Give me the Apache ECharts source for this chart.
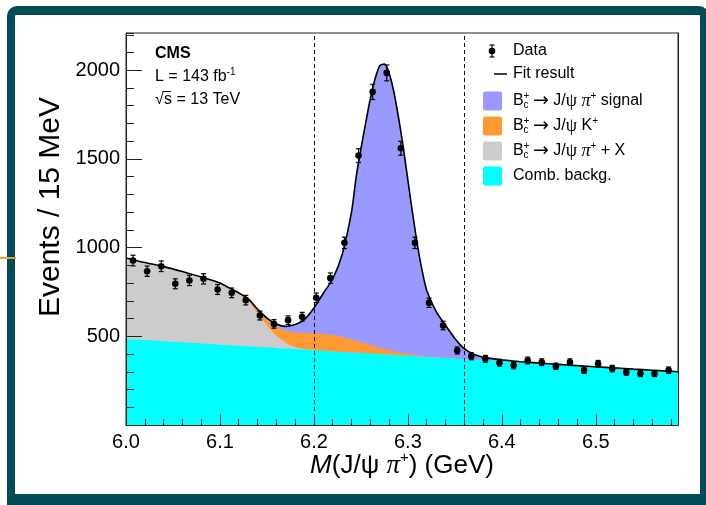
<!DOCTYPE html>
<html>
<head>
<meta charset="utf-8">
<title>B_c+ -> J/psi pi+ invariant mass</title>
<script src="https://cdn.jsdelivr.net/npm/echarts@6/dist/echarts.min.js"></script>
<style>
  html, body { margin: 0; padding: 0; background: #fff; }
  #frame {
    position: absolute; left: 7px; top: 6px; width: 702px; height: 500px;
    box-sizing: border-box; border-style: solid; border-color: #034b56;
    border-width: 9px 9px 12px 8px; border-radius: 10px 10px 0 0;
    background: #fff; z-index: 0;
  }
  #edgeMark { position: absolute; left: 0; top: 257px; width: 16px; height: 2px; background: #ec9b3b; z-index: 2; }
  #chart { position: absolute; left: 0; top: 0; width: 706px; height: 505px; z-index: 1; }
</style>
</head>
<body>
<div id="frame"></div>
<div id="chart"></div>
<div id="edgeMark"></div>
<script>
// ---- fit components, sampled along the mass axis (GeV, events / 15 MeV) ----
const massGrid = [6.00, 6.02, 6.04, 6.06, 6.08, 6.10,
  6.11, 6.12, 6.13, 6.14, 6.15, 6.16, 6.17, 6.18, 6.19, 6.20, 6.21, 6.22, 6.23, 6.24,
  6.245, 6.25, 6.255, 6.26, 6.265, 6.27, 6.275, 6.28, 6.285, 6.29, 6.295, 6.30, 6.305, 6.31, 6.315,
  6.32, 6.33, 6.34, 6.35, 6.36, 6.37, 6.38, 6.39, 6.40,
  6.42, 6.44, 6.46, 6.48, 6.50, 6.52, 6.54, 6.56, 6.5875];

const combBkg = [485, 479, 472, 466, 460, 453,
  450, 447, 444, 441, 438, 434, 431, 428, 425, 422, 419, 415, 412, 409,
  408, 406, 404, 403, 401, 400, 398, 397, 395, 393, 392, 390, 389, 387, 385,
  384, 381, 378, 374, 371, 368, 365, 362, 359,
  352, 346, 340, 333, 327, 321, 314, 308, 299];

const partialReco = [457, 437, 421, 399, 373, 345,
  318, 290, 255, 190, 125, 70, 32, 11, 3, 0, 0, 0, 0, 0,
  0, 0, 0, 0, 0, 0, 0, 0, 0, 0, 0, 0, 0, 0, 0,
  0, 0, 0, 0, 0, 0, 0, 0, 0,
  0, 0, 0, 0, 0, 0, 0, 0, 0];

const kaonMisid = [0, 0, 0, 0, 0, 1,
  2, 4, 8, 16, 30, 50, 68, 83, 92, 95, 95, 92, 84, 72,
  66, 60, 54, 48, 42, 36, 30, 25, 21, 17, 14, 11, 9, 7, 5,
  4, 2, 1, 0, 0, 0, 0, 0, 0,
  0, 0, 0, 0, 0, 0, 0, 0, 0];

const signalPeak = [0, 0, 0, 0, 1, 2,
  3, 4, 5, 6, 10, 16, 25, 44, 76, 143, 229, 316, 464, 719,
  926, 1090, 1242, 1387, 1507, 1589, 1607, 1563, 1464, 1325, 1164, 979, 797, 626, 485,
  372, 257, 183, 114, 59, 31, 17, 12, 8,
  5, 3, 2, 2, 1, 1, 1, 1, 1];

// ---- measured candidates per 15 MeV bin ----
const binCenters = [6.0075, 6.0225, 6.0375, 6.0525, 6.0675, 6.0825, 6.0975, 6.1125, 6.1275, 6.1425,
  6.1575, 6.1725, 6.1875, 6.2025, 6.2175, 6.2325, 6.2475, 6.2625, 6.2775, 6.2925,
  6.3075, 6.3225, 6.3375, 6.3525, 6.3675, 6.3825, 6.3975, 6.4125, 6.4275, 6.4425,
  6.4575, 6.4725, 6.4875, 6.5025, 6.5175, 6.5325, 6.5475, 6.5625, 6.5775];
const dataCounts = [927, 867, 895, 796, 815, 824, 764, 745, 704, 617,
  570, 591, 610, 717, 828, 1027, 1519, 1878, 1985, 1560,
  1027, 689, 561, 420, 388, 373, 351, 335, 364, 354,
  331, 354, 309, 345, 318, 298, 290, 290, 309];
const dataErrors = [30, 29, 30, 28, 29, 29, 28, 27, 27, 25,
  24, 24, 25, 27, 29, 32, 39, 43, 45, 39,
  32, 26, 24, 20, 20, 19, 19, 18, 19, 19,
  18, 19, 18, 19, 18, 17, 17, 17, 18];

// signal window boundaries
const windowEdges = [6.2, 6.355];

// axes
const xRange = [6.0, 6.5875];
const yRange = [0, 2210];

const FONT = '"Liberation Sans", Arial, Helvetica, sans-serif';
const SERIF = '"Liberation Serif", "DejaVu Serif", serif';
const COL = { signal: '#9999ff', kaon: '#ff9933', partial: '#cccccc', comb: '#00ffff', ink: '#000000', axis: '#222222' };

// cumulative levels of the stacked fit
const lvlComb = combBkg.slice();
const lvlPartial = lvlComb.map((v, i) => v + partialReco[i]);
const lvlKaon = lvlPartial.map((v, i) => v + kaonMisid[i]);
const lvlTotal = lvlKaon.map((v, i) => v + signalPeak[i]);
const pts = arr => massGrid.map((m, i) => [m, arr[i]]);

function band(name, arr, color) {
  return {
    type: 'line', name, data: pts(arr), symbol: 'none', showSymbol: false, smooth: 0.25,
    lineStyle: { width: 0 }, areaStyle: { color, opacity: 1 }, silent: true, z: 2
  };
}

const chart = echarts.init(document.getElementById('chart'), null, { renderer: 'canvas' });

// ---- legend & labels ----
const gfx = [];
function txt(x, y, text, opts) {
  const el = { type: 'text', x, y, silent: true, z: 20,
    style: Object.assign({ text, fill: COL.ink, font: '16px ' + FONT, align: 'left', verticalAlign: 'middle' }, opts || {}) };
  gfx.push(el);
  return el;
}
const richBase = {
  sup: { fontSize: 10, fontFamily: FONT, lineHeight: 10, verticalAlign: 'top', fill: COL.ink }
};
const richLegend = {
  ar: { fontSize: 19, fontFamily: '"DejaVu Sans", sans-serif', lineHeight: 20, fill: COL.ink },
  psi: { fontSize: 18, fontFamily: SERIF, lineHeight: 20, fill: COL.ink },
  pi: { fontSize: 18, fontFamily: SERIF, fontStyle: 'italic', lineHeight: 20, fill: COL.ink },
  sup: { fontSize: 10, fontFamily: FONT, lineHeight: 11, verticalAlign: 'top', fill: COL.ink }
};

// CMS label block
txt(155, 54, 'CMS', { font: 'bold 16px ' + FONT });
txt(155, 77, 'L = 143 fb{sup|-1}', { lineHeight: 20, rich: richBase });
txt(155, 100, '√', { font: '16px ' + FONT });
txt(164, 100, 's = 13 TeV', { font: '16px ' + FONT });
gfx.push({ type: 'line', silent: true, z: 20, shape: { x1: 162.5, y1: 91.5, x2: 171, y2: 91.5 }, style: { stroke: COL.ink, lineWidth: 1 } });

// legend entries
const legX = 492, legTextX = 513;
gfx.push({ type: 'group', silent: true, z: 20, children: [
  { type: 'line', shape: { x1: legX, y1: 45, x2: legX, y2: 57 }, style: { stroke: COL.ink, lineWidth: 1.2 }, z: 20 },
  { type: 'line', shape: { x1: legX - 2.5, y1: 45, x2: legX + 2.5, y2: 45 }, style: { stroke: COL.ink, lineWidth: 1.2 }, z: 20 },
  { type: 'line', shape: { x1: legX - 2.5, y1: 57, x2: legX + 2.5, y2: 57 }, style: { stroke: COL.ink, lineWidth: 1.2 }, z: 20 },
  { type: 'circle', shape: { cx: legX, cy: 51, r: 3.3 }, style: { fill: COL.ink }, z: 20 }
]});
txt(legTextX, 51, 'Data');
gfx.push({ type: 'line', silent: true, z: 20, shape: { x1: 494, y1: 74, x2: 507, y2: 74 }, style: { stroke: COL.ink, lineWidth: 1.5 } });
txt(legTextX, 74, 'Fit result');

// decay-mode entries
const boxRows = [
  { y: 101, color: COL.signal, tail: '{ar|→} J/{psi|ψ} {pi|π}{sup|+} signal' },
  { y: 126, color: COL.kaon, tail: '{ar|→} J/{psi|ψ} K{sup|+}' },
  { y: 151, color: COL.partial, tail: '{ar|→} J/{psi|ψ} {pi|π}{sup|+} + X' },
  { y: 176, color: COL.comb, label: 'Comb. backg.' }
];
boxRows.forEach(r => {
  gfx.push({ type: 'rect', silent: true, z: 20, shape: { x: 483, y: r.y - 9.5, width: 19, height: 19, r: 2 }, style: { fill: r.color } });
  if (r.label) { txt(legTextX, r.y, r.label); return; }
  txt(legTextX, r.y, 'B');
  txt(523.5, r.y - 5, '+', { font: '10px ' + FONT });
  txt(523.5, r.y + 4.5, 'c', { font: '10px ' + FONT });
  txt(533, r.y, r.tail, { lineHeight: 20, rich: richLegend });
});

// axis titles
const yTitle = txt(51, 207, 'Events / 15 MeV', { font: '30px ' + FONT, align: 'center' });
yTitle.rotation = Math.PI / 2;
txt(402, 466, '{it|M}(J/ψ {pi|π}{sup|+}) (GeV)', {
  font: '26px ' + FONT, align: 'center', lineHeight: 32,
  rich: {
    it: { fontSize: 26, fontFamily: FONT, fontStyle: 'italic', lineHeight: 32, fill: COL.ink },
    pi: { fontSize: 27, fontFamily: SERIF, fontStyle: 'italic', lineHeight: 32, fill: COL.ink },
    sup: { fontSize: 15, fontFamily: FONT, lineHeight: 15, verticalAlign: 'top', fill: COL.ink }
  }
});

const axisLineStyle = { color: COL.axis, width: 1 };

chart.setOption({
  animation: false,
  backgroundColor: 'transparent',
  grid: { left: 126, right: 28, top: 33, bottom: 80, show: true, borderColor: COL.axis, borderWidth: 1, backgroundColor: 'transparent' },
  xAxis: [
    {
      type: 'value', min: xRange[0], max: xRange[1], interval: 0.1, position: 'bottom', z: 10,
      axisLine: { lineStyle: axisLineStyle },
      axisTick: { inside: true, length: 11, lineStyle: axisLineStyle },
      axisLabel: { formatter: v => v.toFixed(1), fontSize: 20, fontFamily: FONT, color: COL.ink, margin: 7, showMaxLabel: false },
      splitLine: { show: false }
    },
    {
      type: 'value', min: xRange[0], max: xRange[1], interval: 0.02, position: 'bottom', z: 10,
      axisLine: { show: false },
      axisTick: { inside: true, length: 6, lineStyle: axisLineStyle },
      axisLabel: { show: false }, splitLine: { show: false }
    }
  ],
  yAxis: [
    {
      type: 'value', min: yRange[0], max: yRange[1], interval: 500, position: 'left', z: 10,
      axisLine: { show: true, lineStyle: axisLineStyle },
      axisTick: { inside: true, length: 16, lineStyle: axisLineStyle },
      axisLabel: { formatter: v => (v === 0 ? '' : String(v)), fontSize: 20, fontFamily: FONT, color: COL.ink, margin: 6, showMaxLabel: false },
      splitLine: { show: false }
    },
    {
      type: 'value', min: yRange[0], max: yRange[1], interval: 100, position: 'left', z: 10,
      axisLine: { show: false },
      axisTick: { inside: true, length: 8, lineStyle: axisLineStyle },
      axisLabel: { show: false }, splitLine: { show: false }
    },
    {
      type: 'value', min: yRange[0], max: yRange[1], position: 'right', z: 10,
      axisLine: { show: true, lineStyle: axisLineStyle },
      axisTick: { show: false }, axisLabel: { show: false }, splitLine: { show: false }
    }
  ],
  series: [
    band('B_c+ -> J/psi pi+ signal', lvlTotal, COL.signal),
    band('B_c+ -> J/psi K+', lvlKaon, COL.kaon),
    band('B_c+ -> J/psi pi+ + X', lvlPartial, COL.partial),
    band('Comb. backg.', lvlComb, COL.comb),
    {
      type: 'line', name: 'Fit result', data: pts(lvlTotal), symbol: 'none', showSymbol: false, smooth: 0.25,
      lineStyle: { color: COL.ink, width: 1.6 }, silent: true, z: 3,
      markLine: {
        silent: true, symbol: ['none', 'none'], label: { show: false },
        lineStyle: { type: [4, 3], color: '#111', width: 1 },
        data: windowEdges.map(v => ({ xAxis: v }))
      }
    },
    {
      type: 'custom', name: 'Data', z: 5, silent: true,
      data: binCenters.map((m, i) => [m, dataCounts[i], dataErrors[i]]),
      renderItem: (params, api) => {
        const m = api.value(0), n = api.value(1), e = api.value(2);
        const c = api.coord([m, n]);
        const hi = api.coord([m, n + e])[1];
        const lo = api.coord([m, n - e])[1];
        const st = { stroke: COL.ink, lineWidth: 1.2 };
        return { type: 'group', children: [
          { type: 'line', shape: { x1: c[0], y1: hi, x2: c[0], y2: lo }, style: st },
          { type: 'line', shape: { x1: c[0] - 2.5, y1: hi, x2: c[0] + 2.5, y2: hi }, style: st },
          { type: 'line', shape: { x1: c[0] - 2.5, y1: lo, x2: c[0] + 2.5, y2: lo }, style: st },
          { type: 'circle', shape: { cx: c[0], cy: c[1], r: 3.3 }, style: { fill: COL.ink } }
        ]};
      }
    }
  ],
  graphic: { elements: gfx }
});
</script>
</body>
</html>
